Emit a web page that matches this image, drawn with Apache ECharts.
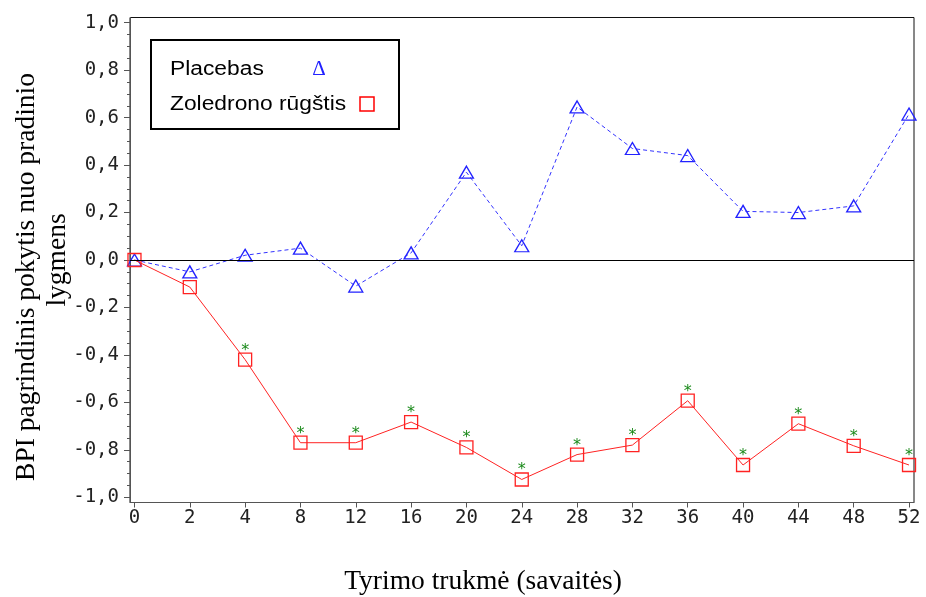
<!DOCTYPE html>
<html>
<head>
<meta charset="UTF-8">
<title></title>
<style>
*{padding:0;margin:0;}
body{background:#fff;}
#chart{width:926px;height:597px;}
</style>
</head>
<body>
<div id="chart"></div>
<script src="https://cdn.jsdelivr.net/npm/echarts@6/dist/echarts.min.js"></script>
<script>
// savaitės (x kategorijos)
var weeks=['0','2','4','8','12','16','20','24','28','32','36','40','44','48','52'];
// Placebas
var placebo=[0,-0.05,0.02,0.05,-0.11,0.03,0.37,0.06,0.645,0.47,0.44,0.205,0.2,0.228,0.615];
// Zoledrono rūgštis
var zoledron=[0,-0.114,-0.42,-0.77,-0.77,-0.683,-0.79,-0.925,-0.82,-0.78,-0.593,-0.864,-0.69,-0.783,-0.864];
// reikšmingumo žvaigždutės
var signif=[0,0,1,1,1,1,1,1,1,1,1,1,1,1,1];
var yTicks=[-1,-0.8,-0.6,-0.4,-0.2,0,0.2,0.4,0.6,0.8,1];

var yMinor=[];
for(var i=0;i<yTicks.length-1;i++){
	for(var k=1;k<4;k++){ yMinor.push(+(yTicks[i]+k*0.05).toFixed(2)); }
}
var xIdx=weeks.map(function(w,i){return i;});

var tickFont={fontFamily:'DejaVu Sans Mono',fontSize:19,color:'#222'};

var chart=echarts.init(document.getElementById('chart'));
var option={
	animation:false,
	grid:{left:130,right:12,top:17.5,bottom:94.5,show:true,borderColor:'#111',borderWidth:1},
	xAxis:{
		type:'value',min:-0.081,max:14.09,
		axisLine:{show:true,onZero:false,lineStyle:{color:'#555',width:1}},
		splitLine:{show:false},
		axisTick:{show:true,length:5,customValues:xIdx,lineStyle:{color:'#555'}},
		axisLabel:{margin:6,customValues:xIdx,formatter:function(v){return weeks[Math.round(v)];},
			fontFamily:tickFont.fontFamily,fontSize:tickFont.fontSize,color:tickFont.color}
	},
	yAxis:[{
		type:'value',min:-1.022,max:1.022,
		axisLine:{show:true,onZero:false,lineStyle:{color:'#555',width:1}},
		splitLine:{show:false},
		axisTick:{show:true,length:6,customValues:yTicks,lineStyle:{color:'#555'}},
		axisLabel:{margin:11,customValues:yTicks,formatter:function(v){return v.toFixed(1).replace('.',',');},
			fontFamily:tickFont.fontFamily,fontSize:tickFont.fontSize,color:tickFont.color}
	},{
		type:'value',min:-1.022,max:1.022,position:'left',
		axisLine:{show:false,onZero:false},splitLine:{show:false},axisLabel:{show:false},
		axisTick:{show:true,length:3,customValues:yMinor,lineStyle:{color:'#555'}}
	}],
	series:[{
		name:'Placebas',type:'line',
		data:placebo.map(function(v,i){return [i,v];}),
		symbol:'triangle',symbolSize:[14,12],
		itemStyle:{color:'transparent',borderColor:'#2222ff',borderWidth:1.3},
		lineStyle:{color:'#3333ff',width:1,type:[4,3]},
		markLine:{silent:true,symbol:'none',label:{show:false},
			lineStyle:{color:'#000',width:1,type:'solid'},data:[{yAxis:0}]},
		z:3
	},{
		name:'Zoledrono rūgštis',type:'line',
		data:zoledron.map(function(v,i){return [i,v];}),
		symbol:'rect',symbolSize:13,
		itemStyle:{color:'transparent',borderColor:'#ff2222',borderWidth:1.3},
		lineStyle:{color:'#ff2222',width:1},
		label:{show:true,position:'top',distance:-6,color:'#1a8a1a',fontSize:16,fontFamily:'DejaVu Sans',
			formatter:function(p){return signif[p.dataIndex]?'*':'';}},
		z:4
	}],
	graphic:[
		{type:'rect',shape:{x:151,y:40,width:248,height:89},style:{fill:'#fff',stroke:'#000',lineWidth:2},z:10},
		{type:'text',x:170,y:69,scaleX:1.14,style:{text:'Placebas',font:'20px "Liberation Sans"',fill:'#000',verticalAlign:'middle'},z:11},
		{type:'text',x:319,y:69,style:{text:'Δ',font:'21px "Liberation Serif"',fill:'#2222ff',align:'center',verticalAlign:'middle'},z:11},
		{type:'text',x:170,y:104,scaleX:1.14,style:{text:'Zoledrono rūgštis',font:'20px "Liberation Sans"',fill:'#000',verticalAlign:'middle'},z:11},
		{type:'rect',shape:{x:360,y:97,width:14,height:14},style:{fill:'none',stroke:'#ff0000',lineWidth:1.5},z:11},
		{type:'text',x:27,y:277,rotation:Math.PI/2,style:{text:'BPI pagrindinis pokytis nuo pradinio',font:'27.5px "Liberation Serif"',fill:'#000',align:'center',verticalAlign:'middle'}},
		{type:'text',x:58,y:260,rotation:Math.PI/2,style:{text:'lygmens',font:'27.5px "Liberation Serif"',fill:'#000',align:'center',verticalAlign:'middle'}},
		{type:'text',x:483,y:582,style:{text:'Tyrimo trukmė (savaitės)',font:'27.5px "Liberation Serif"',fill:'#000',align:'center',verticalAlign:'middle'}}
	]
};
chart.setOption(option);
</script>
</body>
</html>
